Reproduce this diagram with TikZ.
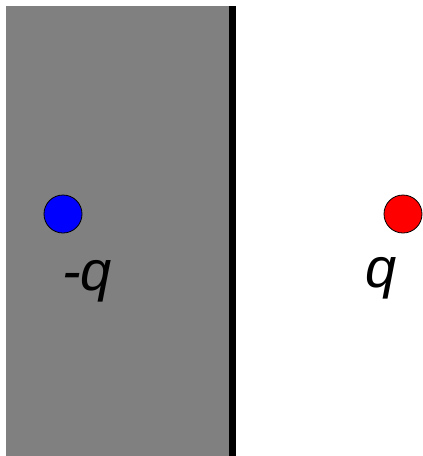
\documentclass[tikz,border=0pt]{standalone}
\usepackage{fontspec}
\setmainfont{Liberation Sans}
\begin{document}
\begin{tikzpicture}[x=1pt,y=-1pt,
  charge/.style={circle,draw=black,line width=0.8pt,minimum size=38pt,inner sep=0pt},
  lbl/.style={font=\fontsize{56}{60}\selectfont\itshape,inner sep=0pt,anchor=base}]
\useasboundingbox (0,0) rectangle (423,456);
\fill[gray] (6,6) rectangle (229,456);
\draw[line width=7pt] (232.5,6) -- (232.5,456);
\node[charge,fill=blue] (neg) at (63,214) {};
\node[charge,fill=red] (pos) at (403,214) {};
\node[lbl] (negl) at (87,290) {-q};
\node[lbl] (posl) at (381,287) {q};
\end{tikzpicture}
\end{document}
